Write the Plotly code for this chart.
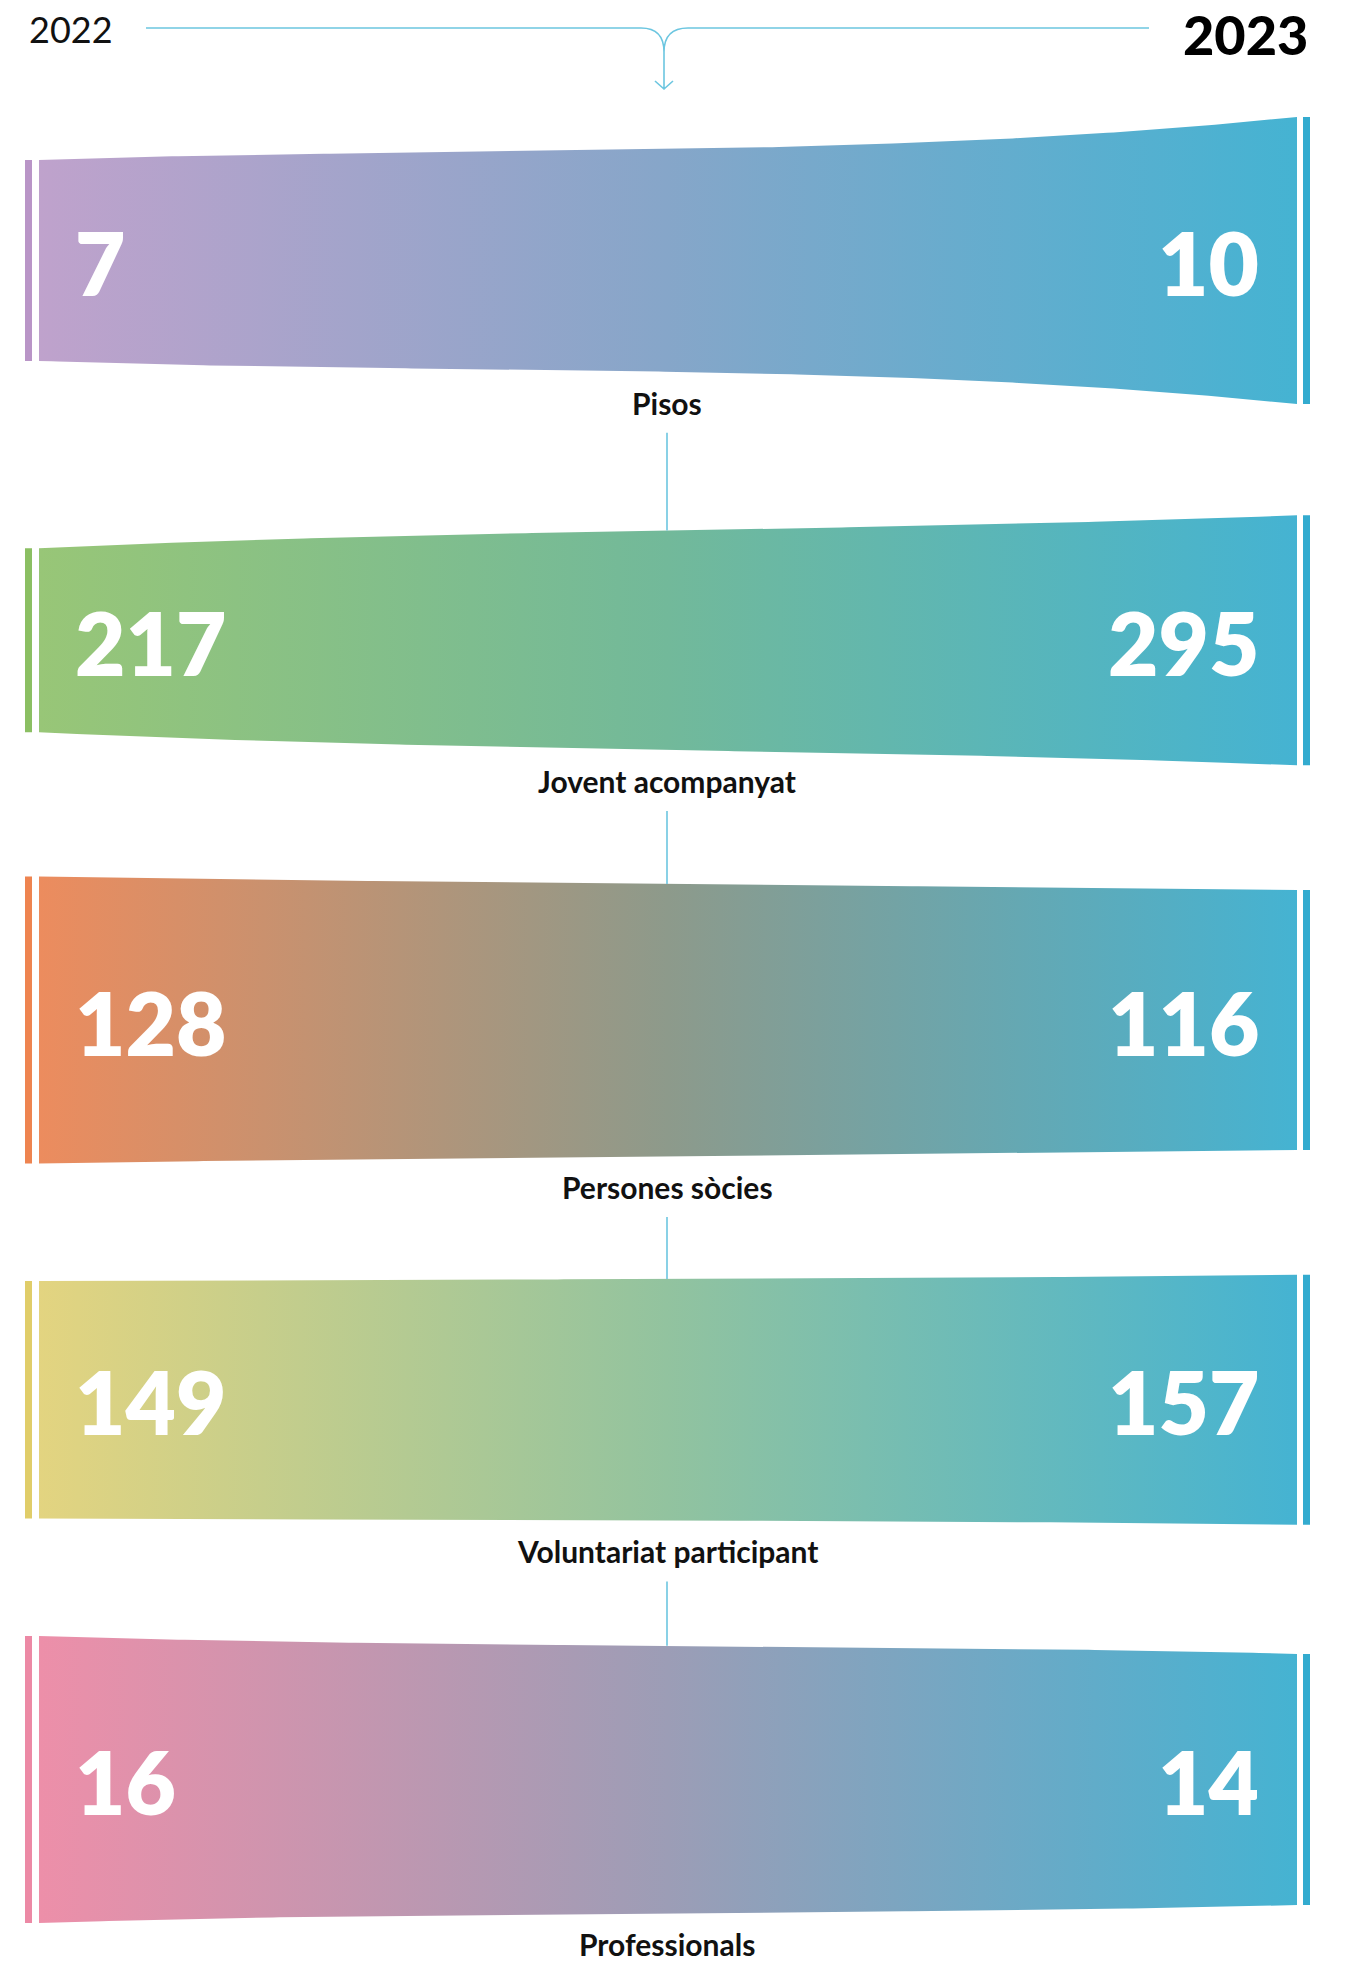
import numpy as np
import plotly.graph_objects as go

# ---------------- data ----------------
categories = ["Pisos", "Jovent acompanyat", "Persones sòcies",
              "Voluntariat participant", "Professionals"]
values_2022 = [7, 217, 128, 149, 16]
values_2023 = [10, 295, 116, 157, 14]
years = ["2022", "2023"]

# ---------------- styles ----------------
left_colors = ["#bfa2cc", "#98c677", "#ec8c5e", "#e3d480", "#ed8fa9"]
mid_colors = ["#86a6c9", "#72b99a", "#8d9a8b", "#92c39f", "#9c9db6"]
right_color = "#45b3d2"
left_bar_colors = ["#b995c7", "#8bbf63", "#ee8450", "#e0cd69", "#ec89a5"]
right_bar_color = "#33abcf"
band_max_height = [287, 250, 287, 250, 287]     # px height for the larger value of each band
edge_bend = [(0.0, -2.0), (0.8, -0.5), (0.5, 0.0), (0.0, -1.4), (1.2, -0.8)]
line_blue = "#6cc6e0"

W, H = 1348, 1961
X_LEFT, X_RIGHT = 39, 1297
BAR_L = (25, 32)
BAR_R = (1303, 1310)
FIRST_CENTER, SPACING = 260.5, 379.75
X_MID = 667
NUM_L_X, NUM_R_X = 73, 1261
NUM_SIZE = 87
FONT = "Lato"

def shape_f(t, a, b):
    return t + a * t * (1 - t) ** 2 + b * t ** 2 * (1 - t)

fig = go.Figure()
shapes = []
annotations = []

t = np.linspace(0, 1, 200)
xs = X_LEFT + (X_RIGHT - X_LEFT) * t
prev_label_y = None

for i, cat in enumerate(categories):
    v0, v1 = values_2022[i], values_2023[i]
    vmax = max(v0, v1)
    hL = v0 / vmax * band_max_height[i]
    hR = v1 / vmax * band_max_height[i]
    c = FIRST_CENTER + SPACING * i
    a, b = edge_bend[i]
    f = shape_f(t, a, b)
    top = (c - hL / 2) + ((c - hR / 2) - (c - hL / 2)) * f
    bot = (c + hL / 2) + ((c + hR / 2) - (c + hL / 2)) * f

    px = np.concatenate([xs, xs[::-1]])
    py = np.concatenate([top, bot[::-1]])
    fig.add_trace(go.Scatter(
        x=px, y=py, mode="lines", fill="toself", line=dict(width=0),
        fillcolor=right_color,
        fillgradient=dict(type="horizontal",
                          colorscale=[[0, left_colors[i]], [0.5, mid_colors[i]], [1, right_color]]),
        hoverinfo="skip", showlegend=False))

    # side bars
    shapes.append(dict(type="rect", xref="x", yref="y", x0=BAR_L[0], x1=BAR_L[1],
                       y0=c - hL / 2, y1=c + hL / 2, fillcolor=left_bar_colors[i], line_width=0))
    shapes.append(dict(type="rect", xref="x", yref="y", x0=BAR_R[0], x1=BAR_R[1],
                       y0=c - hR / 2, y1=c + hR / 2, fillcolor=right_bar_color, line_width=0))

    # numbers
    annotations.append(dict(x=NUM_L_X, y=c + 2, xref="x", yref="y", text=str(v0),
                            xanchor="left", yanchor="middle", showarrow=False,
                            font=dict(family=FONT, size=NUM_SIZE, color="white", weight=800)))
    annotations.append(dict(x=NUM_R_X, y=c + 2, xref="x", yref="y", text=str(v1),
                            xanchor="right", yanchor="middle", showarrow=False,
                            font=dict(family=FONT, size=NUM_SIZE, color="white", weight=800)))

    # label below the band
    tm = (X_MID - X_LEFT) / (X_RIGHT - X_LEFT)
    fm = shape_f(tm, a, b)
    bot_mid = (c + hL / 2) + ((c + hR / 2) - (c + hL / 2)) * fm
    top_mid = (c - hL / 2) + ((c - hR / 2) - (c - hL / 2)) * fm
    label_y = bot_mid + 31
    annotations.append(dict(x=X_MID, y=label_y, xref="x", yref="y", text=f"<b>{cat}</b>",
                            xanchor="center", yanchor="middle", showarrow=False,
                            font=dict(family=FONT, size=30, color="#111111")))

    # connector from previous label
    if prev_label_y is not None:
        shapes.append(dict(type="line", xref="x", yref="y", x0=X_MID, x1=X_MID,
                           y0=prev_label_y + 30, y1=top_mid,
                           line=dict(color=line_blue, width=1.6)))
    prev_label_y = label_y

# ---------------- header ----------------
HY = 28
HX = 664
annotations.append(dict(x=27, y=HY + 1, xref="x", yref="y", text=years[0], xanchor="left",
                        yanchor="middle", showarrow=False,
                        font=dict(family=FONT, size=36, color="#111111", weight=400)))
annotations.append(dict(x=1310, y=HY + 6, xref="x", yref="y", text=years[1], xanchor="right",
                        yanchor="middle", showarrow=False,
                        font=dict(family=FONT, size=54, color="#000000", weight=900)))
hdr_path = (f"M 146,{HY} L {HX-23},{HY} Q {HX},{HY} {HX},{HY+24} "
            f"M {HX+24},{HY} Q {HX},{HY} {HX},{HY+24} "
            f"M {HX+24},{HY} L 1149,{HY} "
            f"M {HX},{HY+24} L {HX},{HY+61} "
            f"M {HX-9},{HY+53} L {HX},{HY+61} L {HX+9},{HY+53}")
shapes.append(dict(type="path", xref="x", yref="y", path=hdr_path,
                   line=dict(color=line_blue, width=1.6)))

fig.update_layout(
    width=W, height=H, margin=dict(l=0, r=0, t=0, b=0),
    paper_bgcolor="white", plot_bgcolor="white",
    xaxis=dict(range=[0, W], visible=False, fixedrange=True),
    yaxis=dict(range=[H, 0], visible=False, fixedrange=True),
    shapes=shapes, annotations=annotations, showlegend=False,
)

fig.write_html("out.html", config={"displayModeBar": False},
               post_script="document.body.style.margin='0px';")
